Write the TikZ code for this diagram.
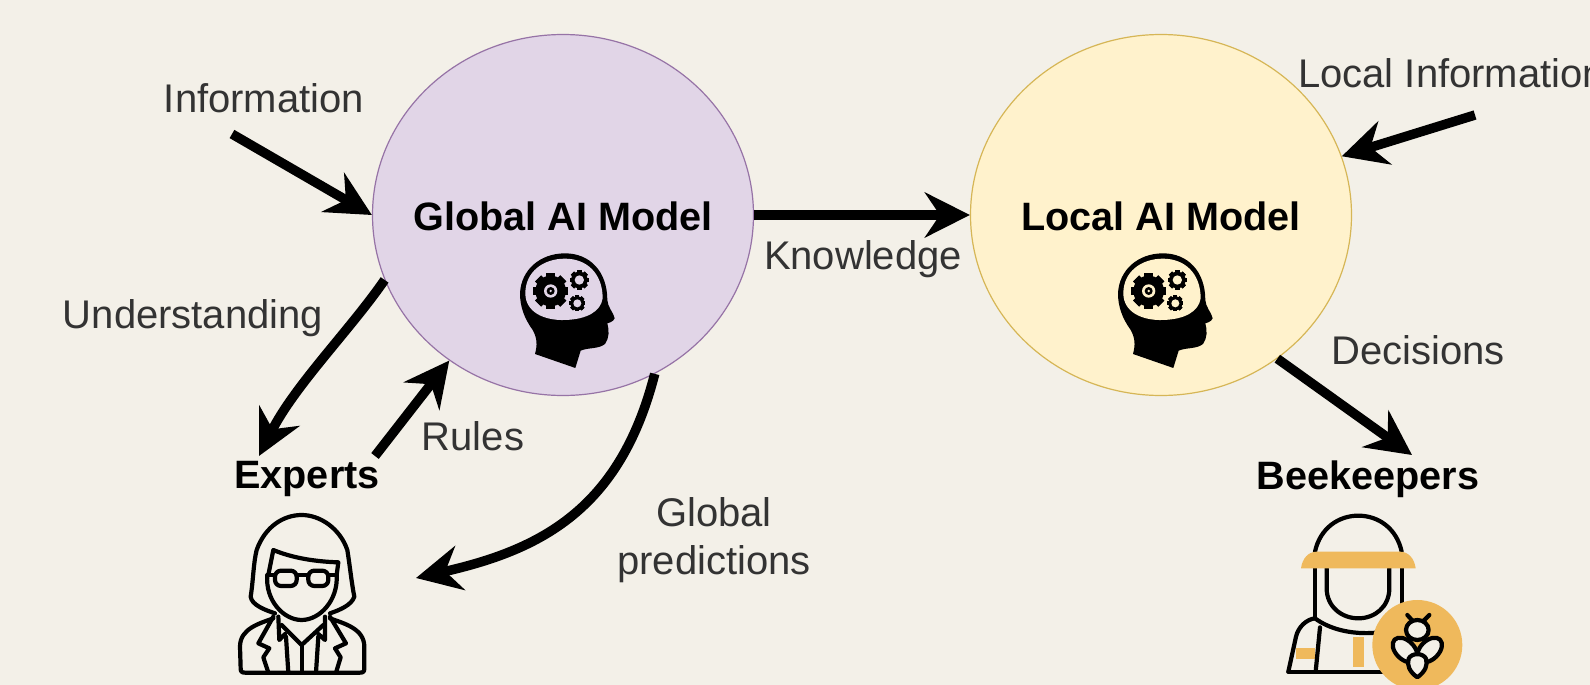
\documentclass[tikz,border=0pt]{standalone}
\usepackage{fontspec}
\setmainfont{Liberation Sans}
\usetikzlibrary{arrows.meta,shapes.geometric}
\definecolor{bgc}{HTML}{F3F0E8}
\definecolor{purf}{HTML}{E1D5E7}
\definecolor{purd}{HTML}{9673A6}
\definecolor{yelf}{HTML}{FFF2CC}
\definecolor{yeld}{HTML}{D6B656}
\definecolor{txt}{HTML}{333333}
\definecolor{amber}{HTML}{EFB95C}
\tikzset{
  modelc/.style={ellipse,minimum width=381pt,minimum height=361pt,inner sep=0pt,line width=1.2pt},
  lab/.style={text=txt,font=\fontsize{40}{48}\selectfont,inner sep=0pt,align=center},
  blab/.style={text=black,font=\fontsize{39.6}{46}\selectfont\bfseries,inner sep=0pt},
  conn/.style={line width=9.5pt,draw=black,-{Stealth[length=45pt,width=45pt,inset=15pt]}},
  ico/.style={draw=black,line cap=round,line join=round},
}
\newcommand{\gearicon}[5]{%
  \fill[black] (#1,#2) circle[radius=#3];
  \foreach \a in {0,45,...,315}{\fill[black,rotate around={\a:(#1,#2)}] (#1-0.28*#3,#2-1.16*#3) rectangle (#1+0.28*#3,#2+1.16*#3);}
  \fill[#5] (#1,#2) circle[radius=#4];
}
\newcommand{\headicon}[3]{%
\begin{scope}[shift={(#1,#2)},x=0.3333pt,y=-0.3333pt]
  \fill[black] (135,372) .. controls (142,345) and (142,325) .. (128,300)
    .. controls (103,265) and (90,230) .. (90,190)
    .. controls (93,120) and (150,70) .. (225,70)
    .. controls (300,70) and (352,125) .. (352,210)
    .. controls (352,230) and (372,250) .. (374,265)
    .. controls (370,275) and (358,278) .. (352,280)
    .. controls (358,300) and (358,325) .. (345,342)
    .. controls (325,358) and (295,352) .. (272,362)
    -- (256,414) -- cycle;
  \fill[#3] (106,190) .. controls (106,125) and (160,86) .. (225,86)
    .. controls (290,86) and (338,130) .. (338,205)
    .. controls (332,245) and (290,268) .. (225,270)
    .. controls (160,272) and (106,245) .. (106,190) -- cycle;
  \gearicon{182}{183}{46}{20}{#3}
  \fill[black] (182,183) circle[radius=12];
  \fill[#3] (182,183) circle[radius=4];
  \gearicon{268}{150}{25}{14}{#3}
  \gearicon{262}{220}{21}{12}{#3}
\end{scope}}
\begin{document}
\begin{tikzpicture}[x=1pt,y=-1pt]
\useasboundingbox (0,0) rectangle (1590,685);
\fill[bgc] (0,0) rectangle (1590,685);
\node[modelc,draw=purd,fill=purf] (glob) at (563,215) {};
\node[modelc,draw=yeld,fill=yelf] (loc) at (1161,215) {};
\node[blab] (globt) at (563,216) {Global AI Model};
\node[blab] (loct) at (1161,216) {Local AI Model};
\headicon{490}{230}{purf}
\headicon{1088}{230}{yelf}
\node[lab] (info) at (264,98) {Information};
\begin{scope}
\clip (0,0) rectangle (1590,685);
\node[lab,anchor=west] (linfo) at (1298,73) {Local Information};
\end{scope}
\node[lab] (know) at (863,259) {Knowledge};
\node[lab] (under) at (193,318) {Understanding};
\node[lab] (rules) at (473,436) {Rules};
\node[lab] (gpred) at (714,540) {Global\\predictions};
\node[lab] (deci) at (1418,350) {Decisions};
\node[blab] (exp) at (307,479) {Experts};
\node[blab] (bee) at (1368,479) {Beekeepers};
\coordinate (infoS) at (232,134);
\coordinate (linfoS) at (1475,115);
\coordinate (underE) at (259,456);
\coordinate (rulesS) at (375,456);
\coordinate (gpredE) at (416,578);
\coordinate (beeE) at (1412,455);
\draw[conn] (infoS) -- (glob.west);
\draw[conn] (linfoS) -- (loc.18);
\draw[conn] (glob.east) -- (loc.west);
\draw[conn] (glob.200) .. controls (350,330) and (295,385) .. (underE);
\draw[conn] (rulesS) -- (glob.232);
\draw[conn] (glob.-60) .. controls (620,510) and (540,550) .. (gpredE);
\draw[conn] (loc.-51) -- (beeE);
% expert icon
\begin{scope}[shift={(210,500)},x=0.3333pt,y=-0.3333pt,ico,line width=4.2pt]
  \draw (195,340) .. controls (165,330) and (125,315) .. (122,290)
    .. controls (130,240) and (130,190) .. (140,150)
    .. controls (165,80) and (220,45) .. (275,45)
    .. controls (330,45) and (390,85) .. (412,150)
    .. controls (420,200) and (425,250) .. (433,290)
    .. controls (425,315) and (390,330) .. (360,340);
  \draw (175,225) -- (190,150) .. controls (250,175) and (320,185) .. (385,187) -- (380,225);
  \draw (172,225) .. controls (165,300) and (220,360) .. (275,360)
    .. controls (330,360) and (385,300) .. (380,225);
  \draw[rounded corners=6pt] (195,212) rectangle (260,258);
  \draw[rounded corners=6pt] (295,212) rectangle (355,258);
  \draw (260,225) -- (295,225);
  \draw (172,225) -- (195,225);
  \draw (355,225) -- (380,225);
  \draw (190,355) .. controls (150,370) and (90,385) .. (90,440) -- (92,505)
    .. controls (92,515) and (95,518) .. (105,518) -- (450,518)
    .. controls (460,518) and (463,515) .. (463,505) -- (463,440)
    .. controls (463,385) and (400,370) .. (360,355);
  \draw (215,375) -- (275,435) -- (340,375);
  \draw (190,350) -- (145,430) -- (178,445) -- (160,472) -- (175,518);
  \draw (360,350) -- (408,430) -- (375,445) -- (392,472) -- (378,518);
  \draw (205,350) -- (208,420) -- (225,402);
  \draw (345,350) -- (345,420) -- (325,402);
  \draw (228,410) -- (235,518);
  \draw (275,435) -- (275,518);
  \draw (325,410) -- (318,518);
\end{scope}
% beekeeper icon
\begin{scope}[shift={(1270,500)},x=0.3333pt,y=-0.3333pt,ico,line width=4.2pt]
  \fill[amber] (248,410) rectangle (282,502);
  \fill[amber] (78,445) rectangle (135,478);
  \draw (135,155) .. controls (150,85) and (205,47) .. (265,47)
    .. controls (325,47) and (380,85) .. (395,155);
  \draw (135,205) -- (135,350);
  \draw (395,205) -- (395,320);
  \draw (170,205) -- (170,265) .. controls (170,320) and (215,355) .. (265,355)
    .. controls (315,355) and (358,320) .. (358,265) -- (358,205);
  \draw (55,515) -- (78,410) .. controls (85,380) and (110,358) .. (135,355);
  \draw (150,382) -- (137,515);
  \draw (55,515) -- (345,515);
  \draw (135,355) .. controls (175,385) and (240,405) .. (320,398);
  \fill[amber,draw=none] (93,205) .. controls (97,175) and (115,155) .. (140,155) -- (390,155)
    .. controls (415,155) and (433,175) .. (437,205) -- cycle;
  \fill[amber,draw=none] (442,435) circle[radius=135];
  \draw (412,345) -- (430,365);
  \draw (478,345) -- (458,365);
  \draw[fill=bgc] (442,390) ellipse[x radius=34,y radius=30];
  \draw[fill=bgc,rotate around={-45:(405,450)}] (405,450) ellipse[x radius=44,y radius=28];
  \draw[fill=bgc,rotate around={45:(479,450)}] (479,450) ellipse[x radius=44,y radius=28];
  \draw[fill=bgc] (442,532) .. controls (418,515) and (410,495) .. (416,476)
    .. controls (425,458) and (459,458) .. (468,476)
    .. controls (474,495) and (466,515) .. (442,532) -- cycle;
\end{scope}
\end{tikzpicture}
\end{document}
